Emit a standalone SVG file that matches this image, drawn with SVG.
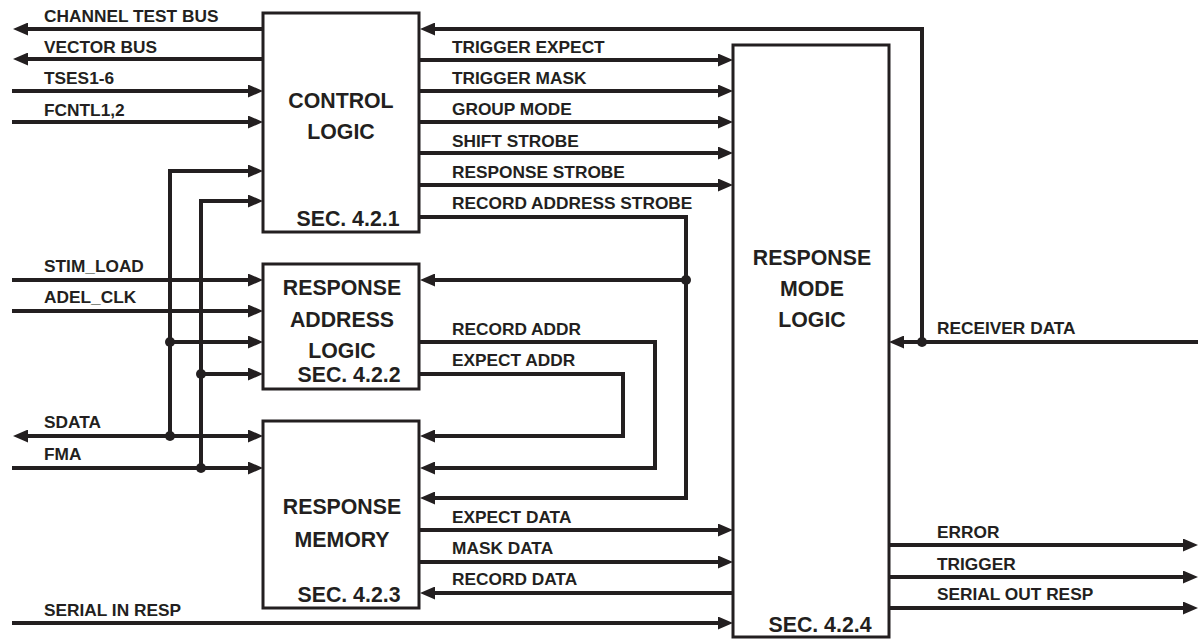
<svg xmlns="http://www.w3.org/2000/svg" width="1198" height="639" viewBox="0 0 1198 639">
<style>
.box{fill:#fff;stroke:#231f20;stroke-width:3}
.t{font-family:"Liberation Sans",Arial,sans-serif;font-weight:bold;font-size:17.3px;fill:#231f20}
.big{font-family:"Liberation Sans",Arial,sans-serif;font-weight:bold;font-size:21.3px;fill:#231f20;text-anchor:middle}
.w{fill:none;stroke:#231f20;stroke-width:4}
.a{marker-end:url(#ah)}
.dot{fill:#231f20}
</style>
<defs>
<marker id="ah" markerUnits="userSpaceOnUse" markerWidth="15" markerHeight="13" refX="4" refY="6.5" orient="auto-start-reverse" viewBox="0 0 15 13">
<path d="M0,0 L15,6.5 L0,13 z" fill="#231f20"/>
</marker>
</defs>
<rect width="1198" height="639" fill="#fff"/>
<g id="control-logic">
<rect class="box" x="263" y="13" width="156" height="219"/>
<text class="big" x="341" y="108">CONTROL</text>
<text class="big" x="341" y="139">LOGIC</text>
<text class="big" x="348" y="226">SEC. 4.2.1</text>
</g>
<g id="response-address-logic">
<rect class="box" x="263" y="264" width="156" height="125"/>
<text class="big" x="342" y="295">RESPONSE</text>
<text class="big" x="342" y="327">ADDRESS</text>
<text class="big" x="342" y="358">LOGIC</text>
<text class="big" x="349" y="382">SEC. 4.2.2</text>
</g>
<g id="response-memory">
<rect class="box" x="263" y="421" width="156" height="187"/>
<text class="big" x="342" y="514">RESPONSE</text>
<text class="big" x="342" y="547">MEMORY</text>
<text class="big" x="349" y="602">SEC. 4.2.3</text>
</g>
<g id="response-mode-logic">
<rect class="box" x="733" y="45" width="156" height="592"/>
<text class="big" x="812" y="265">RESPONSE</text>
<text class="big" x="812" y="296">MODE</text>
<text class="big" x="812" y="327">LOGIC</text>
<text class="big" x="820" y="632">SEC. 4.2.4</text>
</g>
<g id="connectors">
<path class="w a" d="M263,29 H24"/>
<path class="w a" d="M263,59 H24"/>
<path class="w a" d="M12,91 H252"/>
<path class="w a" d="M12,122 H252"/>
<path class="w a" d="M170,436 V171 H252"/>
<path class="w a" d="M170,342 H252"/>
<path class="w a" d="M201,468 V201 H252"/>
<path class="w a" d="M201,374 H252"/>
<path class="w a" d="M12,280 H252"/>
<path class="w a" d="M12,311 H252"/>
<path class="w a" style="marker-start:url(#ah)" d="M24,436 H252"/>
<path class="w a" d="M12,468 H252"/>
<path class="w a" d="M12,623 H722"/>
<path class="w a" d="M420,60 H722"/>
<path class="w a" d="M420,91 H722"/>
<path class="w a" d="M420,122 H722"/>
<path class="w a" d="M420,153 H722"/>
<path class="w a" d="M420,185 H722"/>
<path class="w a" d="M420,217 H686 V498 H431"/>
<path class="w a" d="M686,280 H431"/>
<path class="w a" d="M420,342 H655 V468 H431"/>
<path class="w a" d="M420,374 H623 V436 H431"/>
<path class="w a" d="M420,530 H722"/>
<path class="w a" d="M420,562 H722"/>
<path class="w a" d="M733,593 H431"/>
<path class="w a" d="M1198,342 H900"/>
<path class="w a" d="M922,342 V29 H431"/>
<path class="w a" d="M889,545 H1187"/>
<path class="w a" d="M889,577 H1187"/>
<path class="w a" d="M889,608 H1187"/>
<circle class="dot" cx="170" cy="342" r="5"/>
<circle class="dot" cx="170" cy="436" r="5"/>
<circle class="dot" cx="201" cy="374" r="5"/>
<circle class="dot" cx="201" cy="468" r="5"/>
<circle class="dot" cx="686" cy="280" r="5"/>
<circle class="dot" cx="922" cy="342" r="5"/>
</g>
<g id="labels">
<text class="t" x="44" y="22">CHANNEL TEST BUS</text>
<text class="t" x="44" y="53">VECTOR BUS</text>
<text class="t" x="44" y="84">TSES1-6</text>
<text class="t" x="44" y="116">FCNTL1,2</text>
<text class="t" x="44" y="272">STIM_LOAD</text>
<text class="t" x="44" y="303">ADEL_CLK</text>
<text class="t" x="44" y="428">SDATA</text>
<text class="t" x="44" y="460">FMA</text>
<text class="t" x="44" y="616">SERIAL IN RESP</text>
<text class="t" x="452" y="53">TRIGGER EXPECT</text>
<text class="t" x="452" y="84">TRIGGER MASK</text>
<text class="t" x="452" y="115">GROUP MODE</text>
<text class="t" x="452" y="147">SHIFT STROBE</text>
<text class="t" x="452" y="178">RESPONSE STROBE</text>
<text class="t" x="452" y="209">RECORD ADDRESS STROBE</text>
<text class="t" x="452" y="335">RECORD ADDR</text>
<text class="t" x="452" y="366">EXPECT ADDR</text>
<text class="t" x="452" y="523">EXPECT DATA</text>
<text class="t" x="452" y="554">MASK DATA</text>
<text class="t" x="452" y="585">RECORD DATA</text>
<text class="t" x="937" y="334">RECEIVER DATA</text>
<text class="t" x="937" y="538">ERROR</text>
<text class="t" x="937" y="570">TRIGGER</text>
<text class="t" x="937" y="600">SERIAL OUT RESP</text>
</g>
</svg>
